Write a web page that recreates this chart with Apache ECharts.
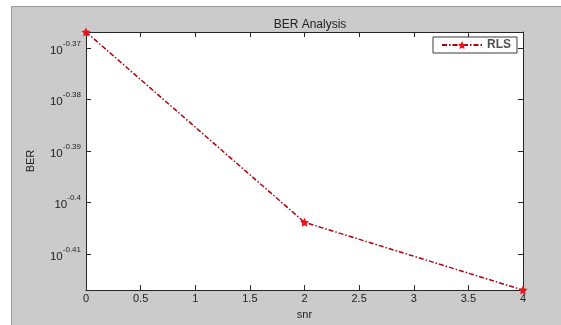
<!DOCTYPE html>
<html>
<head>
<meta charset="utf-8">
<script src="https://cdn.jsdelivr.net/npm/echarts@6/dist/echarts.min.js"></script>
<style>
  html, body { margin: 0; padding: 0; background: #fff; }
  #frame {
    position: absolute; left: 11px; top: 6px; width: 550px; height: 319px;
    box-sizing: border-box; background: #cbcbcb;
    border-top: 1px solid #9c9c9c; border-left: 1px solid #9c9c9c;
  }
  #chart { position: absolute; left: 0; top: 0; width: 561px; height: 325px; }
</style>
</head>
<body>
<div id="frame"></div>
<div id="chart"></div>
<script>
const snr = [0, 2, 4];
const ber = [0.4297, 0.3946, 0.3828];
const yTickExponents = [-0.41, -0.4, -0.39, -0.38, -0.37];
const xTicks = [0, 0.5, 1, 1.5, 2, 2.5, 3, 3.5, 4];

const logBer = ber.map(v => Math.log10(v));
const yMin = Math.min(...logBer);
const yMax = Math.max(...logBer);
const axisColor = '#262626';
const font = 'Liberation Sans, Arial, sans-serif';

const chart = echarts.init(document.getElementById('chart'));

const tickStyle = { show: true, inside: true, length: 5, lineStyle: { color: axisColor } };

chart.setOption({
  backgroundColor: 'transparent',
  animation: false,
  title: {
    text: 'BER Analysis',
    left: 305,
    textAlign: 'center',
    top: 14,
    textStyle: { fontFamily: font, fontSize: 12, fontWeight: 'normal', color: '#222' }
  },
  legend: {
    data: ['RLS'],
    right: 44,
    top: 37,
    backgroundColor: '#fff',
    borderColor: '#3a3a3a',
    borderWidth: 1,
    borderRadius: 0,
    padding: [2, 6, 2, 8],
    itemWidth: 40,
    itemHeight: 10,
    itemGap: 4,
    textStyle: { fontFamily: font, fontSize: 12, fontWeight: 'bold', color: '#505050' }
  },
  grid: {
    left: 86, top: 32, width: 437, height: 261,
    show: true, backgroundColor: '#fff', borderWidth: 0
  },
  xAxis: [{
    type: 'value',
    min: 0, max: 4, interval: 0.5,
    name: 'snr',
    nameLocation: 'middle',
    nameGap: 18,
    nameTextStyle: { fontFamily: font, fontSize: 11, color: '#222' },
    axisLine: { show: true, onZero: false, lineStyle: { color: axisColor } },
    axisTick: tickStyle,
    axisLabel: {
      margin: 3, fontFamily: font, fontSize: 11, color: '#222',
      customValues: xTicks,
      formatter: v => String(v)
    },
    splitLine: { show: false }
  }, {
    type: 'value',
    position: 'top',
    min: 0, max: 4, interval: 0.5,
    axisLine: { show: true, onZero: false, lineStyle: { color: axisColor } },
    axisTick: tickStyle,
    axisLabel: { show: false },
    splitLine: { show: false }
  }],
  yAxis: [{
    type: 'value',
    min: yMin, max: yMax,
    name: 'BER',
    nameLocation: 'middle',
    nameGap: 50,
    nameTextStyle: { fontFamily: font, fontSize: 11, color: '#222' },
    axisLine: { show: true, onZero: false, lineStyle: { color: axisColor } },
    axisTick: Object.assign({ customValues: yTickExponents }, tickStyle),
    axisLabel: {
      margin: 5,
      padding: [11, 0, 0, 0],
      customValues: yTickExponents,
      formatter: v => '{b|10}{e|' + String(Number(v.toFixed(2))) + '}',
      rich: {
        b: { fontFamily: font, fontSize: 11.5, lineHeight: 14, color: '#222', verticalAlign: 'bottom', padding: [0, 0, 4, 0] },
        e: { fontFamily: font, fontSize: 8, lineHeight: 10, color: '#222', verticalAlign: 'bottom', padding: [0, 0, 13, 0] }
      }
    },
    splitLine: { show: false }
  }, {
    type: 'value',
    position: 'right',
    min: yMin, max: yMax,
    axisLine: { show: true, onZero: false, lineStyle: { color: axisColor } },
    axisTick: Object.assign({ customValues: yTickExponents }, tickStyle),
    axisLabel: { show: false, customValues: yTickExponents },
    splitLine: { show: false }
  }],
  series: [{
    name: 'RLS',
    type: 'line',
    data: snr.map((x, i) => [x, logBer[i]]),
    symbol: 'path://M0,-10L2.9,-4L9.5,-3.1L4.7,1.5L5.9,8.1L0,5L-5.9,8.1L-4.7,1.5L-9.5,-3.1L-2.9,-4Z',
    symbolSize: 9,
    itemStyle: { color: '#e8141c' },
    lineStyle: { color: '#b0000f', width: 1.5, type: [5, 2, 1.5, 2] },
    clip: false
  }]
});
</script>
</body>
</html>
